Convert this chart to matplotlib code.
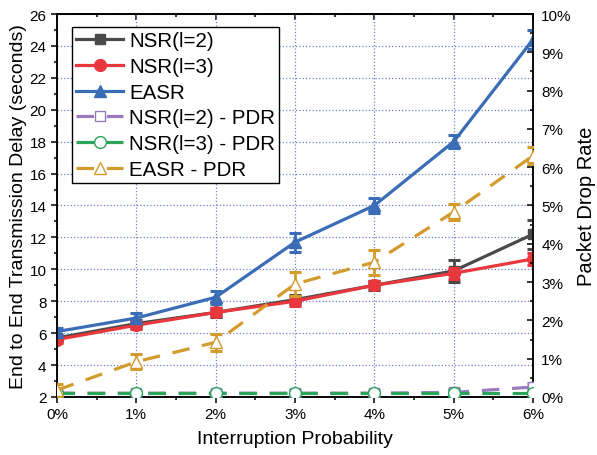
import matplotlib
matplotlib.use("Agg")
import matplotlib.pyplot as plt
from matplotlib.ticker import MultipleLocator

plt.rcParams['font.family'] = ['Liberation Sans', 'DejaVu Sans']

x_vals = [0, 1, 2, 3, 4, 5, 6]
x_labels = ["0%", "1%", "2%", "3%", "4%", "5%", "6%"]

nsr2_delay = [5.7, 6.6, 7.3, 8.1, 9.0, 9.9, 12.2]
nsr2_delay_err = [0.2, 0.25, 0.3, 0.3, 0.3, 0.7, 0.9]
nsr3_delay = [5.6, 6.5, 7.3, 8.0, 9.0, 9.75, 10.65]
nsr3_delay_err = [0.2, 0.25, 0.25, 0.3, 0.25, 0.35, 0.4]
easr_delay = [6.1, 6.95, 8.25, 11.7, 14.0, 18.0, 24.4]
easr_delay_err = [0.2, 0.3, 0.4, 0.6, 0.45, 0.4, 0.6]

nsr2_pdr = [0.1, 0.1, 0.1, 0.1, 0.1, 0.12, 0.26]
nsr2_pdr_err = [0.03, 0.03, 0.08, 0.08, 0.08, 0.08, 0.1]
nsr3_pdr = [0.1, 0.1, 0.1, 0.1, 0.1, 0.1, 0.1]
nsr3_pdr_err = [0.03, 0.03, 0.03, 0.03, 0.03, 0.08, 0.08]
easr_pdr = [0.18, 0.92, 1.43, 2.95, 3.52, 4.83, 6.3]
easr_pdr_err = [0.15, 0.2, 0.22, 0.31, 0.33, 0.2, 0.22]

c_nsr2 = '#4a4a4a'
c_nsr3 = '#e8383d'
c_easr = '#3a6db5'
c_nsr2p = '#9b7bc0'
c_nsr3p = '#2aa55b'
c_easrp = '#d39a2c'

fig = plt.figure(figsize=(5.97, 4.56), dpi=100)
ax = fig.add_axes([0.0955, 0.1272, 0.7973, 0.8399])
ax2 = ax.twinx()

lw = 2.3
eb_kw = dict(fmt='none', elinewidth=2.0, capsize=4.5, capthick=2.2)

# Left axis: delay
ax.errorbar(x_vals, nsr2_delay, yerr=nsr2_delay_err, ecolor=c_nsr2, zorder=3, **eb_kw)
h1, = ax.plot(x_vals, nsr2_delay, color=c_nsr2, lw=lw, marker='s', ms=7.5, label='NSR(l=2)', zorder=3)
ax.errorbar(x_vals, nsr3_delay, yerr=nsr3_delay_err, ecolor=c_nsr3, zorder=4, **eb_kw)
h2, = ax.plot(x_vals, nsr3_delay, color=c_nsr3, lw=lw, marker='o', ms=8.5, label='NSR(l=3)', zorder=4)
ax.errorbar(x_vals, easr_delay, yerr=easr_delay_err, ecolor=c_easr, zorder=5, **eb_kw)
h3, = ax.plot(x_vals, easr_delay, color=c_easr, lw=lw, marker='^', ms=8.5, label='EASR', zorder=5)

# Right axis: PDR
dash = (5.5, 4.0)
ax2.errorbar(x_vals, nsr2_pdr, yerr=nsr2_pdr_err, ecolor=c_nsr2p, zorder=3, **eb_kw)
h4, = ax2.plot(x_vals, nsr2_pdr, color=c_nsr2p, lw=lw, ls=(0, dash), marker='s', ms=7.5,
               mfc='white', mec=c_nsr2p, mew=1.0, label='NSR(l=2) - PDR', zorder=3)
ax2.errorbar(x_vals, nsr3_pdr, yerr=nsr3_pdr_err, ecolor=c_nsr3p, zorder=4, **eb_kw)
h5, = ax2.plot(x_vals, nsr3_pdr, color=c_nsr3p, lw=lw, ls=(0, dash), marker='o', ms=8.5,
               mfc='white', mec=c_nsr3p, mew=1.0, label='NSR(l=3) - PDR', zorder=4)
ax2.errorbar(x_vals, easr_pdr, yerr=easr_pdr_err, ecolor=c_easrp, zorder=5, **eb_kw)
h6, = ax2.plot(x_vals, easr_pdr, color=c_easrp, lw=lw, ls=(0, dash), marker='^', ms=9,
               mfc='white', mec=c_easrp, mew=1.0, label='EASR - PDR', zorder=5)

ax.set_xlim(0, 6)
ax.set_ylim(2, 26)
ax2.set_ylim(0, 10)

ax.set_xticks(x_vals)
ax.set_xticklabels(x_labels)
ax.xaxis.set_minor_locator(MultipleLocator(0.5))
ax.yaxis.set_major_locator(MultipleLocator(2))
ax.yaxis.set_minor_locator(MultipleLocator(1))
ax2.set_yticks(range(0, 11))
ax2.set_yticklabels([f"{v}%" for v in range(0, 11)])
ax2.yaxis.set_minor_locator(MultipleLocator(0.5))

ax.grid(True, which='major', color='#6f80c8', ls=':', lw=0.9)

ax.tick_params(axis='both', which='major', direction='out', length=4.5, width=1.1,
               labelsize=11, pad=3, top=False, right=False)
ax.tick_params(axis='both', which='minor', direction='out', length=2.5, width=1.1,
               top=False, right=False)
ax2.tick_params(axis='y', which='major', direction='in', length=4.5, width=1.1,
                labelsize=11, pad=6)
ax2.tick_params(axis='y', which='minor', direction='in', length=2.5, width=1.1)

sec = ax.secondary_xaxis('top')
sec.set_xticks(x_vals)
sec.xaxis.set_minor_locator(MultipleLocator(0.5))
sec.tick_params(axis='x', which='major', direction='in', length=4.5, width=1.1, labeltop=False)
sec.tick_params(axis='x', which='minor', direction='in', length=2.5, width=1.1)

for a in (ax, ax2):
    for s in a.spines.values():
        s.set_linewidth(1.1)
        s.set_color('black')
sec.spines['top'].set_linewidth(1.1)

ax.set_xlabel('Interruption Probability', fontsize=14, labelpad=6)
ax.set_ylabel('End to End Transmission Delay (seconds)', fontsize=14, labelpad=2)
ax2.set_ylabel('Packet Drop Rate', fontsize=14.5, labelpad=4)

leg = ax2.legend(handles=[h1, h2, h3, h4, h5, h6], loc='upper left',
                 bbox_to_anchor=(0.031, 0.966), borderaxespad=0, fontsize=14.8,
                 frameon=True, fancybox=False, edgecolor='black', framealpha=1,
                 handlelength=2.3, handletextpad=0.3, labelspacing=0.33,
                 borderpad=0.2)
leg.get_frame().set_linewidth(1.0)
leg.set_zorder(10)

fig.savefig('out.png', dpi=100)
